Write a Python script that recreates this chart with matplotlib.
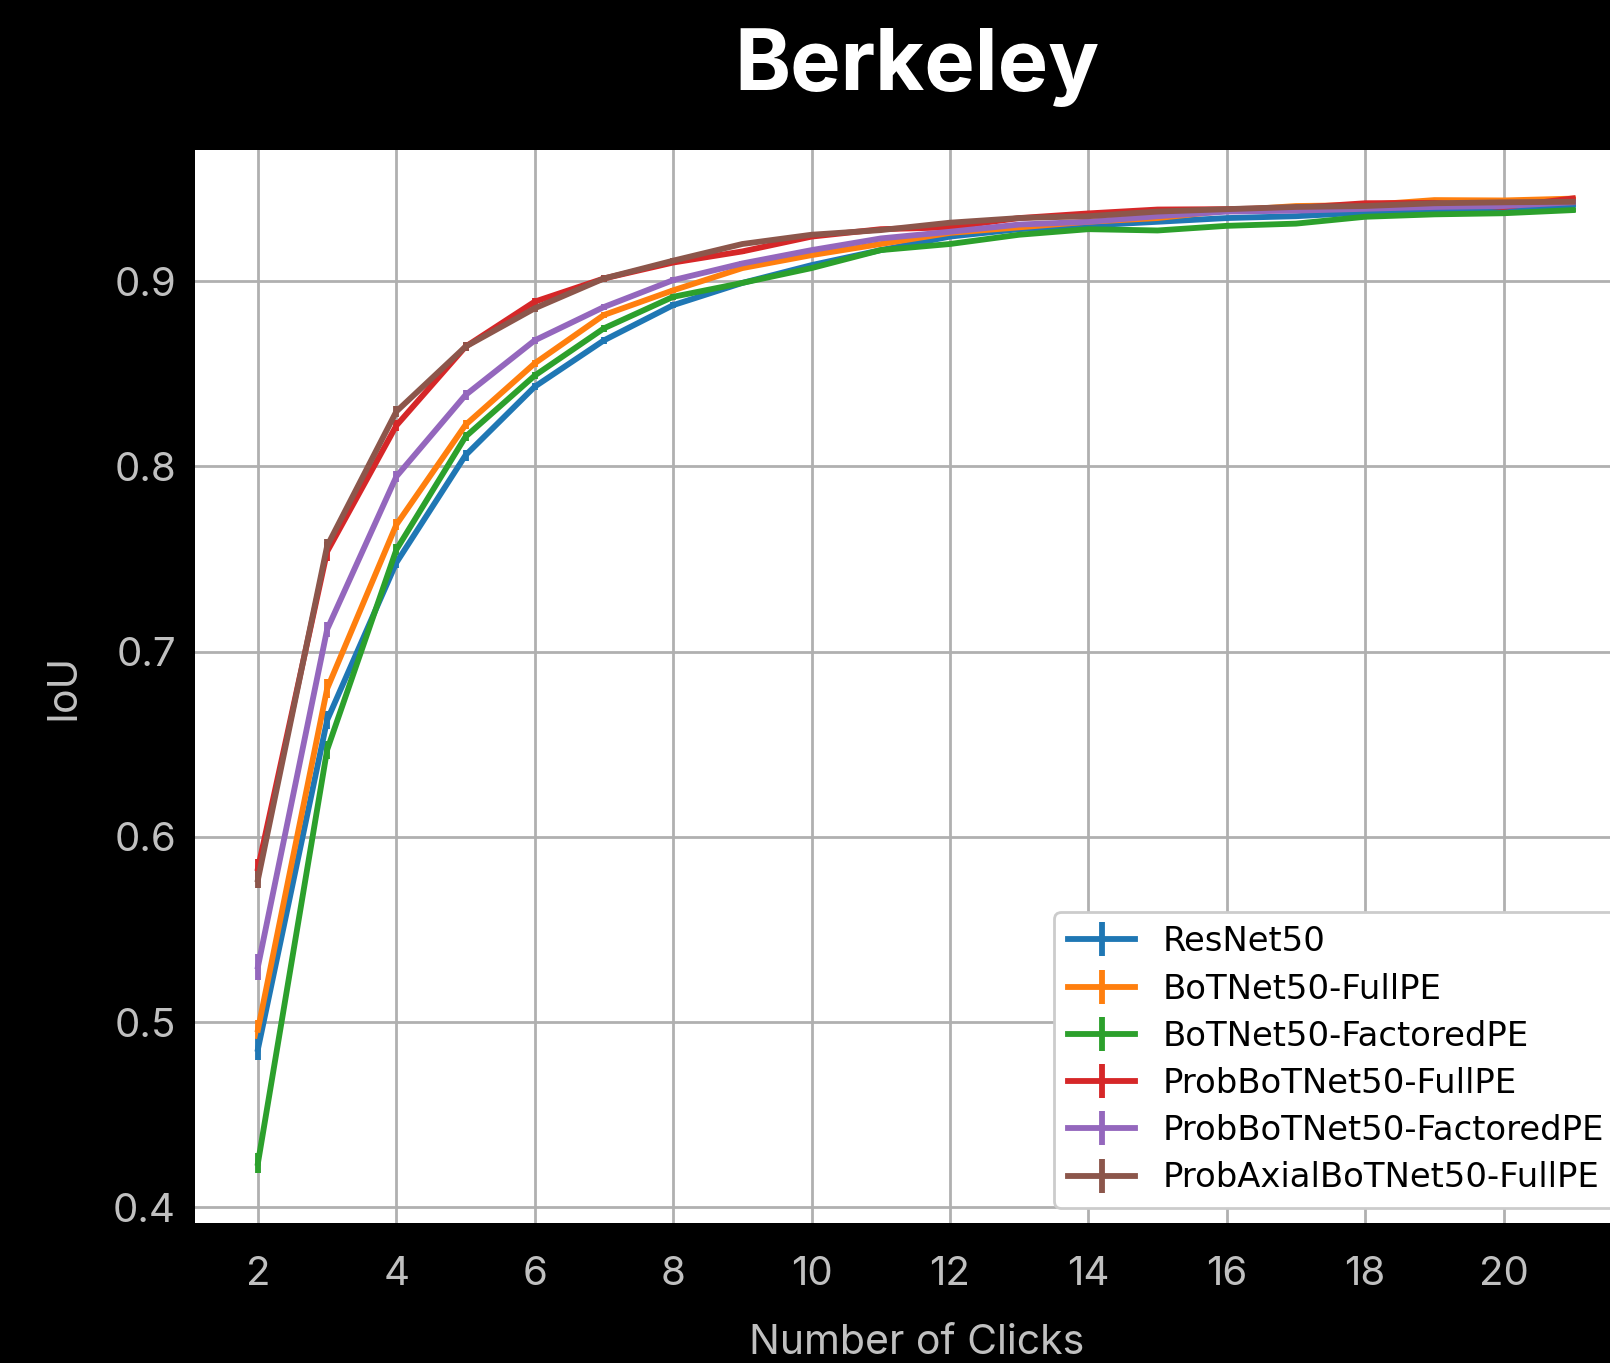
import numpy as np
import matplotlib.pyplot as plt

# clicks 2..21
clicks = [2, 3, 4, 5, 6, 7, 8, 9, 10, 11, 12, 13, 14, 15, 16, 17, 18, 19, 20, 21]

names = ['ResNet50', 'BoTNet50-FullPE', 'BoTNet50-FactoredPE',
         'ProbBoTNet50-FullPE', 'ProbBoTNet50-FactoredPE', 'ProbAxialBoTNet50-FullPE']

resnet = [0.4855, 0.663, 0.748, 0.806, 0.843, 0.868, 0.887, 0.899, 0.9086, 0.9167,
          0.924, 0.928, 0.930, 0.932, 0.934, 0.935, 0.937, 0.938, 0.939, 0.941]
bot_full = [0.496, 0.680, 0.7685, 0.8224, 0.8556, 0.8817, 0.895, 0.907, 0.914, 0.920,
            0.926, 0.929, 0.932, 0.934, 0.938, 0.9405, 0.941, 0.9437, 0.9435, 0.9445]
bot_fact = [0.424, 0.647, 0.755, 0.816, 0.849, 0.8745, 0.8915, 0.899, 0.907, 0.9167,
            0.920, 0.925, 0.928, 0.9273, 0.9298, 0.931, 0.9347, 0.936, 0.9366, 0.9383]
prob_full = [0.583, 0.754, 0.822, 0.8646, 0.8889, 0.9014, 0.910, 0.916, 0.924, 0.928,
             0.929, 0.934, 0.9365, 0.9386, 0.9388, 0.9395, 0.942, 0.9422, 0.940, 0.9446]
prob_fact = [0.530, 0.712, 0.7945, 0.8385, 0.868, 0.886, 0.9005, 0.9095, 0.9167, 0.923,
             0.9266, 0.9305, 0.932, 0.935, 0.9375, 0.938, 0.939, 0.940, 0.9405, 0.9425]
axial_full = [0.577, 0.757, 0.8296, 0.8646, 0.8853, 0.9014, 0.911, 0.920, 0.925, 0.9275,
              0.9315, 0.934, 0.935, 0.9375, 0.9388, 0.940, 0.9405, 0.942, 0.9425, 0.9428]

# error bars (std)
err_resnet = [0.006, 0.005, 0.003, 0.003, 0.002, 0.002, 0.0015, 0.0013, 0.0012, 0.001,
              0.001, 0.001, 0.001, 0.001, 0.001, 0.001, 0.001, 0.001, 0.001, 0.001]
err_bot_full = [0.005, 0.005, 0.003, 0.0025, 0.002, 0.0018, 0.0015, 0.0013, 0.0012, 0.001,
                0.001, 0.001, 0.001, 0.001, 0.001, 0.001, 0.001, 0.001, 0.001, 0.001]
err_bot_fact = [0.0055, 0.005, 0.003, 0.0025, 0.002, 0.0018, 0.0015, 0.0013, 0.0012, 0.001,
                0.001, 0.001, 0.001, 0.001, 0.001, 0.001, 0.001, 0.001, 0.001, 0.001]
err_prob_full = [0.005, 0.005, 0.003, 0.0025, 0.002, 0.0018, 0.0015, 0.0013, 0.0012, 0.001,
                 0.001, 0.001, 0.001, 0.001, 0.001, 0.001, 0.001, 0.001, 0.001, 0.001]
err_prob_fact = [0.007, 0.004, 0.003, 0.0025, 0.002, 0.0018, 0.0015, 0.0013, 0.0012, 0.001,
                 0.001, 0.001, 0.001, 0.001, 0.001, 0.001, 0.001, 0.001, 0.001, 0.001]
err_axial_full = [0.0045, 0.004, 0.003, 0.0025, 0.002, 0.0018, 0.0015, 0.0013, 0.0012, 0.001,
                  0.001, 0.001, 0.001, 0.001, 0.001, 0.001, 0.001, 0.001, 0.001, 0.001]

series = [resnet, bot_full, bot_fact, prob_full, prob_fact, axial_full]
errors = [err_resnet, err_bot_full, err_bot_fact, err_prob_full, err_prob_fact, err_axial_full]
colors = ['tab:blue', 'tab:orange', 'tab:green', 'tab:red', 'tab:purple', 'tab:brown']

fig = plt.figure(figsize=(16.1, 13.63), dpi=100, facecolor='black')
ax = fig.add_axes([0.1214, 0.1027, 0.8963, 0.7872])
ax.set_facecolor('white')

for vals, err, c, name in zip(series, errors, colors, names):
    ax.errorbar(clicks, vals, yerr=err, color=c, lw=4.2, elinewidth=4.2, capsize=0, label=name)

ax.set_xlim(1.097, 21.95)
ax.set_ylim(0.3916, 0.9707)
ax.set_xticks([2, 4, 6, 8, 10, 12, 14, 16, 18, 20])
ax.set_yticks([0.4, 0.5, 0.6, 0.7, 0.8, 0.9])
ax.grid(True, color='#b0b0b0', lw=2)
ax.set_axisbelow(True)
for s in ax.spines.values():
    s.set_visible(False)

lbl_color = '#c0c0c0'
ax.tick_params(axis='x', length=0, pad=24, labelsize=29, labelcolor=lbl_color)
ax.tick_params(axis='y', length=0, pad=14, labelsize=29, labelcolor=lbl_color)
for t in ax.get_xticklabels() + ax.get_yticklabels():
    t.set_fontfamily('Inter')

ax.set_xlabel('Number of Clicks', fontsize=29.5, color=lbl_color, family='Inter', labelpad=22)
ax.set_ylabel('IoU', fontsize=29.5, color=lbl_color, family='Inter', labelpad=22)
ax.set_title('Berkeley', fontsize=61, color='white', family='Inter', fontweight='bold', pad=43)

leg = ax.legend(loc='lower left', bbox_to_anchor=(0.6547, 0.1137), bbox_transform=fig.transFigure,
                borderaxespad=0, labelspacing=0.42, framealpha=1,
                prop={'family': 'DejaVu Sans', 'size': 24.4})
leg.get_frame().set_edgecolor('#cccccc')
leg.get_frame().set_linewidth(2)

fig.savefig('out.png', dpi=100, facecolor='black')
